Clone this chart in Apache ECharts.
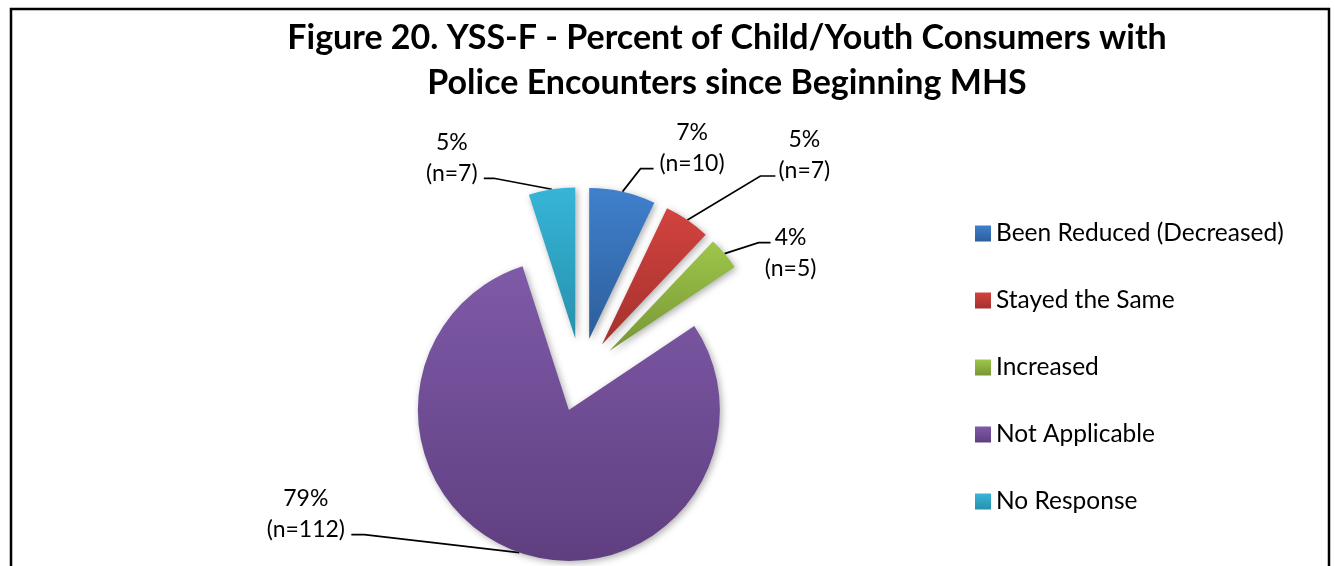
<!DOCTYPE html>
<html>
<head>
<meta charset="utf-8">
<script src="https://cdn.jsdelivr.net/npm/echarts@6/dist/echarts.min.js"></script>
<style>
  html, body { margin: 0; padding: 0; background: #fff; }
  #chart { width: 1335px; height: 566px; }
</style>
</head>
<body>
<div id="chart"></div>
<script>
// Survey responses: police encounters since beginning mental health services
const titleText = 'Figure 20. YSS-F - Percent of Child/Youth Consumers with\nPolice Encounters since Beginning MHS';
const categories = ['Been Reduced (Decreased)', 'Stayed the Same', 'Increased', 'Not Applicable', 'No Response'];
const counts = [10, 7, 5, 112, 7];

// Slice shading (top -> bottom of each slice)
const topColors = ['#3F80CD', '#D2433F', '#9EC64A', '#7F5AA8', '#36B5D8'];
const bottomColors = ['#2E5E9B', '#A5312E', '#779636', '#5F3F80', '#2890AC'];

// Leader-line end point, measured from the slice's outer mid point
const labelAttach = [[31, -23], [88, -44], [46, -11], [-168, -18], [-68, -11]];
// Horizontal leader segment length next to the label
const elbowLen = [13, 15, 12, 13, 10];
// Gap between the leader end and the text block
const textGap = [5, 2, -7, 5, 5];
// Which text line the leader meets: 1 = first line, 2 = second line
const leaderLine = [2, 2, 1, 2, 2];

const FONT = 'Lato, "Open Sans", sans-serif';
const LABEL_SIZE = 23;
const LABEL_LH = 31;
const PIE_CX = 581, PIE_CY = 375, PIE_R = 151, EXPLODE = 37;

const total = counts.reduce((a, b) => a + b, 0);
const measureCtx = document.createElement('canvas').getContext('2d');
measureCtx.font = LABEL_SIZE + 'px Lato';
function textWidth(s) { return Math.ceil(measureCtx.measureText(s).width); }

// Mid angle of each slice, clockwise from 12 o'clock
const midAngles = [];
(function () {
  let acc = 0;
  counts.forEach(v => {
    midAngles.push((acc + v / 2) / total * Math.PI * 2);
    acc += v;
  });
})();

function gradientFor(i) {
  return new echarts.graphic.LinearGradient(0, 0, 0, 1, [
    { offset: 0, color: topColors[i] },
    { offset: 1, color: bottomColors[i] }
  ]);
}

// Each slice is drawn by its own pie series, shifted outward along its mid angle
const series = categories.map((cat, i) => {
  const ux = Math.sin(midAngles[i]), uy = -Math.cos(midAngles[i]);
  const cx = PIE_CX + EXPLODE * ux, cy = PIE_CY + EXPLODE * uy;
  const pct = Math.round(counts[i] / total * 100) + '%';
  const nText = '(n=' + counts[i] + ')';
  const w = Math.max(textWidth(pct), textWidth(nText)) + 2;
  const pad = leaderLine[i] === 2 ? [0, 0, LABEL_LH + 10, 0] : [21, 0, 0, 0];
  const rightSide = labelAttach[i][0] >= 0;

  return {
    type: 'pie',
    id: 'slice' + i,
    center: [cx, cy],
    radius: PIE_R,
    startAngle: 90,
    clockwise: true,
    avoidLabelOverlap: false,
    silent: true,
    z: i === 3 ? 1 : 2,
    data: categories.map((name, j) => {
      if (j !== i) {
        return {
          name: name, value: counts[j],
          itemStyle: { color: 'rgba(0,0,0,0)', shadowBlur: 0, shadowColor: 'rgba(0,0,0,0)' },
          label: { show: false }, labelLine: { show: false }
        };
      }
      return {
        name: name, value: counts[j],
        itemStyle: {
          color: gradientFor(j),
          shadowBlur: 7, shadowColor: 'rgba(0,0,0,0.32)', shadowOffsetX: 2, shadowOffsetY: 2
        },
        label: {
          show: true,
          position: 'outside',
          formatter: '{p|' + pct + '}\n{p|' + nText + '}',
          padding: pad,
          rich: {
            p: {
              width: w, align: 'center', fontFamily: FONT, fontSize: LABEL_SIZE,
              lineHeight: LABEL_LH, color: '#000'
            }
          }
        },
        labelLine: { show: true, length: 15, length2: 13, lineStyle: { color: '#000', width: 1.7 } }
      };
    }),
    labelLayout: function (p) {
      if (p.dataIndex !== i) return {};
      const p0 = [cx + PIE_R * ux, cy + PIE_R * uy];
      const attach = [p0[0] + labelAttach[i][0], p0[1] + labelAttach[i][1]];
      const dir = rightSide ? 1 : -1;
      const elbow = [attach[0] - dir * elbowLen[i], attach[1]];
      return {
        x: attach[0] + dir * textGap[i],
        y: attach[1],
        align: rightSide ? 'left' : 'right',
        verticalAlign: 'middle',
        labelLinePoints: [p0, elbow, attach]
      };
    }
  };
});

const chart = echarts.init(document.getElementById('chart'), null, { renderer: 'canvas' });

chart.setOption({
  animation: false,
  backgroundColor: '#fff',
  title: {
    text: titleText,
    left: 722,
    top: 11,
    textAlign: 'center',
    textStyle: { fontFamily: FONT, fontWeight: 'bold', fontSize: 34, lineHeight: 45, color: '#000' }
  },
  legend: {
    orient: 'vertical',
    left: 975,
    top: 221,
    padding: 0,
    itemWidth: 16,
    itemHeight: 16,
    itemGap: 42,
    icon: 'rect',
    selectedMode: false,
    textStyle: { fontFamily: FONT, fontSize: 24.5, lineHeight: 24, color: '#000' },
    data: categories.map((name, i) => ({
      name: name,
      itemStyle: { color: gradientFor(i), shadowBlur: 0, shadowOffsetX: 0, shadowOffsetY: 0 }
    }))
  },
  graphic: [{
    type: 'rect',
    shape: { x: 11, y: 9, width: 1318, height: 600 },
    style: { fill: 'none', stroke: '#000', lineWidth: 2.5 },
    silent: true
  }],
  series: series
});
</script>
</body>
</html>
